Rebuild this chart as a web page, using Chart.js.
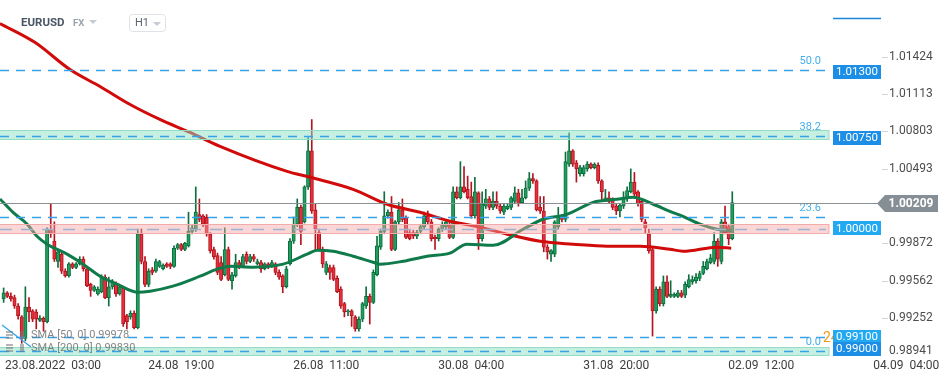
<!DOCTYPE html>
<html>
<head>
<meta charset="utf-8">
<script src="https://cdn.jsdelivr.net/npm/chart.js@4.4.1/dist/chart.umd.min.js"></script>
<style>
  html, body { margin: 0; padding: 0; background: #fff; overflow: hidden; }
  canvas { display: block; }
</style>
</head>
<body>
<canvas id="chart" width="949" height="381"></canvas>
<script>
// ── EURUSD H1 candles (22.08 18:00 → 02.09 03:00) ─────────────────────────────
const openP = [
  0.9941,0.9946,0.9943,0.9942,0.9935,0.9926,0.9908,0.9934,0.9931,0.9930,
  0.9923,0.9925,0.9922,0.9999,0.9989,0.9972,0.9978,0.9964,0.9960,0.9970,
  0.9967,0.9970,0.9974,0.9966,0.9953,0.9948,0.9945,0.9947,0.9959,0.9942,
  0.9951,0.9953,0.9945,0.9950,0.9927,0.9926,0.9929,0.9917,0.9995,0.9972,
  0.9953,0.9965,0.9964,0.9968,0.9966,0.9970,0.9970,0.9968,0.9983,0.9986,
  0.9982,0.9985,0.9997,0.9999,1.0011,1.0010,1.0009,0.9995,0.9982,0.9977,
  0.9971,0.9961,0.9982,0.9956,0.9960,0.9971,0.9968,0.9978,0.9972,0.9976,
  0.9970,0.9971,0.9966,0.9970,0.9968,0.9970,0.9963,0.9960,0.9951,0.9970,
  0.9989,1.0003,1.0017,1.0005,1.0034,1.0064,1.0015,0.9996,0.9982,0.9963,
  0.9967,0.9967,0.9958,0.9949,0.9937,0.9930,0.9931,0.9926,0.9916,0.9924,
  0.9935,0.9943,0.9938,0.9961,0.9984,0.9997,1.0010,1.0013,0.9982,1.0005,
  1.0015,1.0008,0.9996,0.9996,0.9993,0.9997,1.0001,1.0010,1.0005,0.9992,
  0.9991,0.9999,1.0001,1.0003,0.9992,1.0030,1.0025,1.0034,1.0032,1.0026,
  1.0010,1.0029,0.9991,1.0018,1.0024,1.0017,1.0022,1.0018,1.0013,1.0016,
  1.0017,1.0022,1.0029,1.0021,1.0025,1.0033,1.0041,1.0039,1.0017,1.0014,
  0.9984,0.9978,0.9978,1.0001,1.0010,1.0007,1.0053,1.0064,1.0054,1.0045,
  1.0045,1.0049,1.0053,1.0050,1.0052,1.0039,1.0024,1.0025,1.0024,1.0018,
  1.0014,1.0018,1.0024,1.0030,1.0038,1.0030,1.0022,1.0005,0.9995,0.9982,
  0.9931,0.9949,0.9937,0.9955,0.9943,0.9943,0.9943,0.9946,0.9944,0.9951,
  0.9955,0.9956,0.9958,0.9962,0.9966,0.9971,0.9972,0.9989,0.9972,1.0005,
  1.0001,0.9991
];
const highP = [
  0.9950,0.9947,0.9946,0.9944,0.9937,0.9927,0.9951,0.9942,0.9932,0.9932,
  0.9927,0.9926,1.0000,1.0020,1.0005,0.9982,0.9980,0.9966,0.9971,0.9971,
  0.9971,0.9976,0.9976,0.9967,0.9954,0.9952,0.9951,0.9961,0.9961,0.9959,
  0.9957,0.9955,0.9952,0.9951,0.9928,0.9931,0.9931,0.9999,0.9999,0.9976,
  0.9966,0.9967,0.9974,0.9973,0.9970,0.9971,0.9971,0.9985,0.9987,0.9987,
  0.9988,1.0013,1.0002,1.0034,1.0024,1.0011,1.0011,0.9996,0.9984,0.9979,
  0.9976,1.0000,0.9984,0.9963,0.9978,0.9973,0.9978,0.9980,0.9978,0.9978,
  0.9974,0.9973,0.9971,0.9971,0.9973,0.9971,0.9965,0.9961,0.9968,0.9991,
  1.0009,1.0024,1.0019,1.0035,1.0075,1.0090,1.0020,0.9999,0.9984,0.9972,
  0.9969,0.9969,0.9960,0.9951,0.9938,0.9932,0.9932,0.9927,0.9926,0.9938,
  0.9951,0.9945,0.9965,0.9993,0.9999,1.0030,1.0015,1.0026,1.0006,1.0021,
  1.0024,1.0010,0.9998,0.9998,0.9998,1.0003,1.0013,1.0014,1.0007,0.9994,
  1.0000,1.0005,1.0006,1.0005,1.0034,1.0034,1.0055,1.0051,1.0043,1.0038,
  1.0042,1.0030,1.0030,1.0032,1.0026,1.0030,1.0030,1.0020,1.0020,1.0020,
  1.0026,1.0034,1.0032,1.0032,1.0039,1.0046,1.0045,1.0040,1.0026,1.0026,
  0.9986,0.9982,1.0006,1.0017,1.0011,1.0063,1.0079,1.0065,1.0056,1.0052,
  1.0052,1.0055,1.0054,1.0054,1.0054,1.0040,1.0032,1.0030,1.0025,1.0020,
  1.0020,1.0030,1.0034,1.0049,1.0046,1.0031,1.0024,1.0007,0.9999,0.9984,
  0.9951,0.9951,0.9960,0.9960,0.9956,0.9946,0.9948,0.9948,0.9955,0.9961,
  0.9960,0.9962,0.9964,0.9972,0.9974,0.9978,0.9996,0.9991,1.0007,1.0018,
  1.0003,1.0030
];
const lowP = [
  0.9938,0.9942,0.9939,0.9933,0.9924,0.9904,0.9906,0.9922,0.9922,0.9916,
  0.9922,0.9914,0.9921,0.9992,0.9972,0.9967,0.9962,0.9959,0.9959,0.9966,
  0.9966,0.9969,0.9964,0.9951,0.9943,0.9947,0.9944,0.9946,0.9941,0.9935,
  0.9949,0.9943,0.9944,0.9918,0.9916,0.9924,0.9916,0.9916,0.9970,0.9951,
  0.9951,0.9961,0.9963,0.9967,0.9965,0.9967,0.9966,0.9967,0.9982,0.9981,
  0.9981,0.9984,0.9995,0.9997,1.0005,1.0001,0.9993,0.9979,0.9974,0.9961,
  0.9956,0.9960,0.9956,0.9949,0.9959,0.9966,0.9967,0.9970,0.9971,0.9972,
  0.9969,0.9963,0.9965,0.9966,0.9967,0.9961,0.9957,0.9946,0.9950,0.9969,
  0.9987,1.0001,0.9986,1.0004,1.0032,1.0012,0.9982,0.9981,0.9967,0.9961,
  0.9957,0.9956,0.9946,0.9933,0.9926,0.9927,0.9918,0.9914,0.9914,0.9922,
  0.9933,0.9920,0.9937,0.9960,0.9982,0.9995,1.0008,0.9981,0.9981,1.0003,
  1.0005,0.9991,0.9990,0.9991,0.9991,0.9995,0.9999,1.0003,0.9989,0.9982,
  0.9989,0.9997,0.9999,0.9991,0.9991,1.0024,1.0024,1.0029,1.0024,1.0008,
  1.0008,0.9982,0.9989,1.0016,1.0015,1.0015,1.0016,1.0012,1.0011,1.0015,
  1.0015,1.0020,1.0018,1.0020,1.0024,1.0031,1.0037,1.0014,1.0012,0.9980,
  0.9974,0.9972,0.9976,0.9999,1.0005,1.0005,1.0051,1.0051,1.0038,1.0043,
  1.0043,1.0047,1.0049,1.0049,1.0037,1.0022,1.0022,1.0020,1.0015,1.0011,
  1.0009,1.0016,1.0022,1.0029,1.0026,1.0018,1.0005,0.9996,0.9979,0.9910,
  0.9929,0.9935,0.9935,0.9942,0.9942,0.9942,0.9942,0.9942,0.9942,0.9950,
  0.9953,0.9954,0.9956,0.9961,0.9965,0.9970,0.9970,0.9968,0.9970,0.9995,
  0.9986,0.9990
];
const closeP = [
  0.9946,0.9943,0.9941,0.9935,0.9927,0.9908,0.9934,0.9930,0.9924,0.9924,
  0.9925,0.9922,0.9999,0.9995,0.9974,0.9980,0.9964,0.9960,0.9970,0.9967,
  0.9970,0.9974,0.9966,0.9952,0.9948,0.9951,0.9949,0.9959,0.9942,0.9951,
  0.9956,0.9945,0.9951,0.9920,0.9922,0.9929,0.9917,0.9995,0.9972,0.9953,
  0.9964,0.9963,0.9972,0.9972,0.9969,0.9968,0.9968,0.9983,0.9986,0.9982,
  0.9987,0.9997,1.0000,1.0013,1.0007,1.0003,0.9995,0.9981,0.9976,0.9963,
  0.9957,0.9982,0.9957,0.9961,0.9971,0.9967,0.9976,0.9972,0.9976,0.9974,
  0.9972,0.9966,0.9970,0.9968,0.9971,0.9963,0.9959,0.9951,0.9966,0.9989,
  1.0003,1.0017,0.9997,1.0034,1.0064,1.0014,0.9999,0.9982,0.9970,0.9970,
  0.9963,0.9957,0.9947,0.9935,0.9930,0.9931,0.9927,0.9916,0.9924,0.9937,
  0.9943,0.9938,0.9963,0.9985,0.9997,1.0010,1.0013,0.9982,1.0005,1.0015,
  1.0007,0.9992,0.9991,0.9993,0.9996,1.0001,1.0010,1.0005,0.9991,0.9991,
  0.9999,1.0003,1.0005,0.9992,1.0030,1.0025,1.0034,1.0030,1.0025,1.0010,
  1.0030,0.9991,1.0020,1.0024,1.0017,1.0022,1.0018,1.0014,1.0018,1.0018,
  1.0025,1.0029,1.0020,1.0025,1.0033,1.0041,1.0039,1.0015,1.0014,0.9984,
  0.9980,0.9981,1.0005,1.0010,1.0007,1.0055,1.0064,1.0053,1.0049,1.0050,
  1.0050,1.0053,1.0050,1.0053,1.0039,1.0030,1.0025,1.0022,1.0017,1.0014,
  1.0019,1.0025,1.0031,1.0038,1.0028,1.0020,1.0007,1.0000,0.9981,0.9931,
  0.9949,0.9937,0.9955,0.9943,0.9945,0.9945,0.9946,0.9943,0.9953,0.9957,
  0.9957,0.9959,0.9962,0.9968,0.9972,0.9975,0.9989,0.9974,1.0005,0.9996,
  0.9991,1.00209
];

// ── Moving averages (x = candle index) ───────────────────────────────────────
const sma50X  = [-1, 2.6, 6.5, 9.2, 12, 17.5, 21.9, 26.6, 31.3, 36.8, 40.4, 46.7, 54.2, 58.9, 62.5, 68.8,
  77.1, 83.7, 86.5, 90.9, 96.4, 101.9, 103.8, 110.2, 116.8, 123.1, 127.8, 135, 143.3, 148.8, 155.4,
  162.6, 169.2, 173.6, 179.2, 183.8, 187.4, 192.1, 196.8, 200.9];
const sma50Y  = [1.0024, 1.00129, 1.0003, 0.9993, 0.99864, 0.99781, 0.99698, 0.99598, 0.99532, 0.99465,
  0.99473, 0.99515, 0.99598, 0.99656, 0.99681, 0.99673, 0.99698, 0.99781, 0.99814, 0.99805, 0.99764,
  0.99714, 0.99698, 0.99722, 0.99764, 0.99789, 0.99864, 0.99855, 0.99988, 1.00071, 1.00112, 1.00212,
  1.00237, 1.00254, 1.00196, 1.00137, 1.00096, 1.0003, 0.99988, 0.99978];
const sma200X = [-1, 8.7, 18.3, 26.6, 34.9, 43.1, 51.4, 59.7, 78.2, 84.6, 96.4, 105.8, 114.9, 123.2,
  131.4, 138.9, 148, 157.1, 166.5, 175.6, 183.8, 187.4, 196.8, 200.7];
const sma200Y = [1.01698, 1.0154, 1.01316, 1.01175, 1.01025, 1.00901, 1.00793, 1.00677, 1.00469, 1.0042,
  1.0032, 1.00196, 1.00129, 1.00054, 1.00005, 0.99947, 0.99888, 0.99864, 0.99847, 0.99847, 0.99822,
  0.99805, 0.99839, 0.9983];

// ── Levels, zones, axis labels ───────────────────────────────────────────────
const fibVals    = [1.01315, 1.00765, 1.0009, 0.9898];
const fibNames   = ['50.0', '38.2', '23.6', '0.0'];
const hLineVal   = 0.99092;
const zoneHi     = [1.0081, 1.0003, 0.9901];
const zoneLo     = [1.0074, 0.9996, 0.9894];
const roundLevel = 0.9999;
const lastPrice  = 1.00209;
const badgeVals  = [1.013, 1.0075, 1.0, 0.991, 0.99];
const badgeText  = ['1.01300', '1.00750', '1.00000', '0.99100', '0.99000'];
const priceTicks = [1.01424, 1.01113, 1.00803, 1.00493, 0.99872, 0.99562, 0.99252, 0.98941];
const timeIdx    = [9, 49, 89, 129, 169, 209, 249];
const timeLabels = ['23.08.2022  03:00', '24.08  19:00', '26.08  11:00', '30.08  04:00',
                    '31.08  20:00', '02.09  12:00', '04.09  04:00'];

const UP_FILL = '#1f9e5e', UP_EDGE = '#0d6e3f';
const DN_FILL = '#e5303b', DN_EDGE = '#b3141f';
const BLUE = '#35a2ea';
const FONT = 'Roboto, "Noto Sans", sans-serif';
const ZONE_RIGHT = 829;

const idx = openP.map((_, i) => i);
const isUp = idx.map(i => closeP[i] >= openP[i]);

// ── Overlay: zones, levels, badges, axis text ────────────────────────────────
const overlay = {
  id: 'overlay',
  afterDatasetsDraw(chart) {
    const { ctx, scales: { x, y } } = chart;
    const py = v => y.getPixelForValue(v);
    const px = v => x.getPixelForValue(v);
    ctx.save();

    // zones
    const zoneFill = ['rgba(140,225,195,0.5)', 'rgba(245,165,165,0.45)', 'rgba(140,225,195,0.5)'];
    const zoneEdge = ['#95dcc4', '#f2aaaa', '#95dcc4'];
    zoneHi.forEach((hi, i) => {
      const t = Math.round(py(hi)), b = Math.round(py(zoneLo[i]));
      ctx.fillStyle = zoneFill[i];
      ctx.fillRect(0, t, ZONE_RIGHT, b - t);
      ctx.strokeStyle = zoneEdge[i];
      ctx.lineWidth = 1;
      ctx.strokeRect(-1, t + 0.5, ZONE_RIGHT + 1, b - t);
    });

    // dashed levels
    const dashLine = (v, color, dash) => {
      const yy = Math.round(py(v)) + 0.5;
      ctx.strokeStyle = color;
      ctx.lineWidth = 1.3;
      ctx.setLineDash(dash);
      ctx.beginPath(); ctx.moveTo(0, yy); ctx.lineTo(826, yy); ctx.stroke();
    };
    fibVals.forEach(v => dashLine(v, BLUE, [9, 7]));
    dashLine(hLineVal, BLUE, [9, 7]);
    dashLine(roundLevel, '#9fb2cf', [12, 9]);
    ctx.setLineDash([]);

    // fib labels
    ctx.font = '11px ' + FONT;
    ctx.fillStyle = '#45aeea';
    ctx.textAlign = 'right';
    ctx.textBaseline = 'middle';
    fibVals.forEach((v, i) => ctx.fillText(fibNames[i], 821, py(v) - 8.5));

    // last price line
    const ly = Math.round(py(lastPrice)) + 0.5;
    ctx.strokeStyle = '#8a9095';
    ctx.lineWidth = 1;
    ctx.beginPath(); ctx.moveTo(0, ly); ctx.lineTo(878, ly); ctx.stroke();

    // drawing tools: short line top right, diagonal bottom left
    ctx.strokeStyle = '#1b88d6';
    ctx.lineWidth = 1.5;
    ctx.beginPath(); ctx.moveTo(833, 18.5); ctx.lineTo(881, 18.5); ctx.stroke();
    ctx.strokeStyle = BLUE;
    ctx.lineWidth = 1.3;
    ctx.beginPath(); ctx.moveTo(2, 325); ctx.lineTo(31, 347); ctx.stroke();

    // orange alert label, mostly under the badge
    ctx.font = '14px ' + FONT;
    ctx.fillStyle = '#f59b1a';
    ctx.textAlign = 'left';
    ctx.fillText('24', 823, py(hLineVal) + 1);

    // price badges
    const badgeBg = ['#1c8ee6', '#1c8ee6', '#22a9f2', '#22a9f2', '#1c8ee6'];
    ctx.font = '11.5px ' + FONT;
    ctx.textAlign = 'center';
    badgeVals.forEach((v, i) => {
      const cy = py(v) + 0.5;
      ctx.fillStyle = badgeBg[i];
      ctx.fillRect(833, Math.round(cy - 7), 48, 14);
      ctx.fillStyle = '#fff';
      ctx.fillText(badgeText[i], 857, cy + 0.5);
    });

    // current price badge
    ctx.fillStyle = '#878f96';
    ctx.beginPath();
    ctx.moveTo(877, ly);
    ctx.lineTo(885, ly - 8.5);
    ctx.lineTo(938, ly - 8.5);
    ctx.lineTo(938, ly + 8.5);
    ctx.lineTo(885, ly + 8.5);
    ctx.closePath();
    ctx.fill();
    ctx.fillStyle = '#fff';
    ctx.font = 'bold 12px ' + FONT;
    ctx.fillText(lastPrice.toFixed(5), 911, ly + 0.5);

    // price axis
    ctx.font = '12px ' + FONT;
    ctx.textAlign = 'left';
    ctx.fillStyle = '#4d4d4d';
    ctx.strokeStyle = '#d4d4d4';
    ctx.lineWidth = 1;
    priceTicks.forEach(v => {
      const yy = py(v);
      if (yy < 352) {
        ctx.beginPath(); ctx.moveTo(882, Math.round(yy) + 0.5); ctx.lineTo(888, Math.round(yy) + 0.5); ctx.stroke();
      }
      ctx.fillText(v.toFixed(5), 889, Math.min(yy, 351));
    });

    // time axis
    ctx.fillStyle = '#3d3d3d';
    ctx.textAlign = 'center';
    timeIdx.forEach((t, i) => {
      const w = ctx.measureText(timeLabels[i]).width;
      const cx = Math.max(px(t), 5 + w / 2);
      ctx.fillText(timeLabels[i], cx, 366);
    });

    // indicator legend
    ctx.fillStyle = 'rgba(120,120,120,0.55)';
    [335, 348].forEach(cy => {
      ctx.fillRect(6, cy - 4, 7, 2);
      ctx.fillRect(6, cy - 1, 7, 2);
      ctx.fillRect(6, cy + 2, 7, 2);
      ctx.fillRect(20, cy - 4, 4, 8);
    });
    ctx.font = '11px ' + FONT;
    ctx.textAlign = 'left';
    ctx.fillStyle = 'rgba(105,105,105,0.8)';
    ctx.fillText('SMA [50, 0] 0.99978', 31, 335);
    ctx.fillText('SMA [200, 0] 0.99830', 31, 348);

    // header
    ctx.font = 'bold 11.5px ' + FONT;
    ctx.fillStyle = '#4a5563';
    ctx.fillText('EURUSD', 21, 23);
    ctx.font = 'bold 9.5px ' + FONT;
    ctx.fillStyle = '#9aa4ae';
    ctx.fillText('FX', 73, 24);
    ctx.fillStyle = '#c5cbd1';
    ctx.beginPath(); ctx.moveTo(89, 20); ctx.lineTo(97, 20); ctx.lineTo(93, 24); ctx.closePath(); ctx.fill();
    ctx.beginPath(); ctx.moveTo(153, 22); ctx.lineTo(161, 22); ctx.lineTo(157, 26); ctx.closePath(); ctx.fill();
    ctx.strokeStyle = '#dfe3e7';
    ctx.beginPath(); ctx.roundRect(129.5, 14.5, 36, 17, 3); ctx.stroke();
    ctx.font = '11px ' + FONT;
    ctx.fillStyle = '#5a6570';
    ctx.fillText('H1', 135, 23.5);

    ctx.restore();
  }
};

// ── Chart ────────────────────────────────────────────────────────────────────
new Chart(document.getElementById('chart'), {
  type: 'bar',
  data: {
    datasets: [
      {
        type: 'line',
        label: 'SMA 50',
        data: sma50X.map((v, i) => ({ x: v, y: sma50Y[i] })),
        borderColor: '#0f7a4a',
        borderWidth: 3,
        pointRadius: 0,
        cubicInterpolationMode: 'monotone',
        order: 0
      },
      {
        type: 'line',
        label: 'SMA 200',
        data: sma200X.map((v, i) => ({ x: v, y: sma200Y[i] })),
        borderColor: '#d10a0a',
        borderWidth: 3,
        pointRadius: 0,
        cubicInterpolationMode: 'monotone',
        order: 0
      },
      {
        label: 'Body',
        data: idx.map(i => ({ x: i, y: [openP[i], closeP[i]] })),
        backgroundColor: idx.map(i => isUp[i] ? UP_FILL : DN_FILL),
        borderColor: idx.map(i => isUp[i] ? UP_EDGE : DN_EDGE),
        borderWidth: 1,
        borderSkipped: false,
        barThickness: 3.4,
        minBarLength: 1,
        grouped: false,
        order: 1
      },
      {
        label: 'Wick',
        data: idx.map(i => ({ x: i, y: [lowP[i], highP[i]] })),
        backgroundColor: idx.map(i => isUp[i] ? UP_EDGE : DN_EDGE),
        borderWidth: 0,
        barThickness: 1,
        grouped: false,
        order: 2
      }
    ]
  },
  options: {
    responsive: false,
    animation: false,
    events: [],
    layout: { padding: 0 },
    plugins: { legend: { display: false }, tooltip: { enabled: false } },
    scales: {
      x: {
        type: 'linear', min: -1, max: 242.3, offset: false,
        grid: { display: false }, border: { display: false },
        ticks: { display: false },
        afterFit(s) { s.height = 24; }
      },
      y: {
        position: 'right', min: 0.98926, max: 1.01894,
        grid: { display: false }, border: { display: false },
        ticks: { display: false },
        afterFit(s) { s.width = 67; }
      }
    }
  },
  plugins: [overlay]
});
</script>
</body>
</html>
